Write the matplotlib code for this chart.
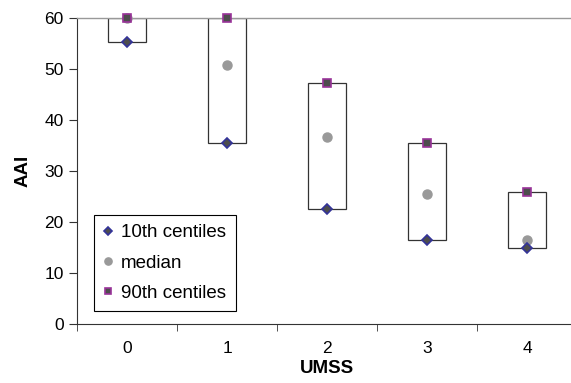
import numpy as np
import matplotlib.pyplot as plt

plt.rcParams['font.family'] = ['Liberation Sans', 'DejaVu Sans']

# UMSS categories and AAI centiles
umss = [0, 1, 2, 3, 4]
p10 = [55.3, 35.4, 22.6, 16.4, 14.9]
median = [60.0, 50.7, 36.7, 25.5, 16.5]
p90 = [60.0, 60.0, 47.2, 35.4, 25.8]

fig = plt.figure(figsize=(5.71, 3.83), dpi=100)
ax = fig.add_axes([77 / 571, 59 / 383, 500 / 571, 306 / 383])

x = np.array(umss)
lo = np.array(p10)
hi = np.array(p90)

# boxes from 10th to 90th centile
ax.bar(x, hi - lo, bottom=lo, width=0.38, facecolor='white',
       edgecolor='#333333', linewidth=0.9, zorder=2)

ax.plot(x, p10, linestyle='none', marker='D', markersize=5.5,
        markerfacecolor='#4d4d4d', markeredgecolor='#333399',
        markeredgewidth=1.2, label='10th centiles', zorder=4, clip_on=False)
ax.plot(x, median, linestyle='none', marker='o', markersize=6.5,
        markerfacecolor='#999999', markeredgecolor='#999999',
        label='median', zorder=3, clip_on=False)
ax.plot(x, p90, linestyle='none', marker='s', markersize=6,
        markerfacecolor='#4d4d4d', markeredgecolor='#993399',
        markeredgewidth=1.2, label='90th centiles', zorder=4, clip_on=False)

ax.set_xlim(-0.5, 4.5)
ax.set_ylim(0, 60)
ax.set_yticks(range(0, 61, 10))
ax.set_xticks(umss)
ax.set_xticks(np.arange(-0.5, 4.6, 1), minor=True)
ax.tick_params(axis='x', which='major', length=0, pad=12, labelsize=12.5)
ax.tick_params(axis='x', which='minor', length=5, direction='out', color='#333333')
ax.tick_params(axis='y', length=6, direction='out', color='#333333', labelsize=12.5, pad=3.5)

ax.spines['right'].set_visible(False)
ax.spines['top'].set_color('#999999')
ax.spines['top'].set_linewidth(1.0)
ax.spines['left'].set_color('#333333')
ax.spines['bottom'].set_color('#333333')

ax.set_xlabel('UMSS', fontweight='bold', fontsize=13.5, labelpad=3)
ax.set_ylabel('AAI', fontweight='bold', fontsize=13.5, labelpad=9)

leg = ax.legend(loc='lower left', bbox_to_anchor=(0.034, 0.042), fontsize=13.5,
                fancybox=False, edgecolor='black', framealpha=1,
                handlelength=0.5, handletextpad=0.45, borderpad=0.5,
                labelspacing=0.7, borderaxespad=0, markerscale=0.8)
leg.get_frame().set_linewidth(0.8)

fig.savefig('out.png', dpi=100)
